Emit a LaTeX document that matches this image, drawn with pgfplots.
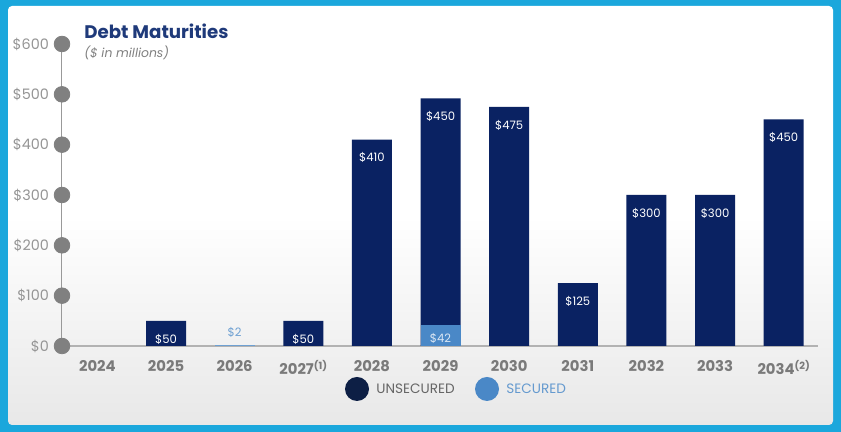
\documentclass[border=0pt]{standalone}
\usepackage{pgfplots}
\pgfplotsset{compat=1.18}
\usepackage{fontspec}
\setmainfont{Poppins}

\definecolor{navybar}{HTML}{0A2262}
\definecolor{navydot}{HTML}{0D1F45}
\definecolor{securedblue}{HTML}{4A88C7}
\definecolor{framecyan}{HTML}{1BA7DC}
\definecolor{ticktext}{HTML}{959595}
\definecolor{yeartext}{HTML}{7A7A7A}
\definecolor{titlenavy}{HTML}{1F3A7A}

\begin{document}
\begin{tikzpicture}
% frame and panel
\fill[framecyan] (0,0) rectangle (420.5pt,216pt);
\shade[top color=white, bottom color=black!9, middle color=white, rounded corners=2pt]
  (4pt,3.5pt) rectangle (416.5pt,213pt);

\begin{axis}[
    at={(31pt,43pt)}, anchor=south west,
    scale only axis,
    width=378pt, height=151pt,
    xmin=-0.516, xmax=10.5,
    ymin=0, ymax=600,
    clip=false,
    axis x line=bottom, axis y line=left,
    x axis line style={-, draw=black!30, line width=0.6pt},
    y axis line style={-, draw=black!40, line width=0.5pt},
    xtick={0,...,10},
    xticklabels={2024,2025,2026,{2027\raisebox{0.6ex}{\tiny(1)}},2028,2029,2030,2031,2032,2033,{2034\raisebox{0.6ex}{\tiny(2)}}},
    x tick label style={font=\fontsize{7.4}{9}\selectfont\bfseries, text=yeartext, yshift=-3.5pt},
    ytick={0,100,...,600},
    yticklabels={\$0,\$100,\$200,\$300,\$400,\$500,\$600},
    y tick label style={font=\fontsize{7.2}{9}\selectfont, text=ticktext, xshift=-3pt},
    major tick length=0pt,
    bar width=20pt,
]
% unsecured (2029 bar drawn to its full height of 450 + 42)
\addplot[ybar, bar shift=0pt, fill=navybar, draw=none,
    point meta=explicit symbolic, nodes near coords,
    every node near coord/.append style={anchor=north, yshift=-3pt,
        font=\fontsize{5.8}{7}\selectfont, text=white}]
coordinates {
(1,50) [\$50]
(3,50) [\$50]
(4,410) [\$410]
(5,492) [\$450]
(6,475) [\$475]
(7,125) [\$125]
(8,300) [\$300]
(9,300) [\$300]
(10,450) [\$450]
};
% secured
\addplot[ybar, bar shift=0pt, fill=securedblue, draw=none,
    point meta=explicit symbolic, nodes near coords,
    every node near coord/.append style={anchor=north, yshift=-0.5pt,
        font=\fontsize{5.8}{7}\selectfont, text=white!80!securedblue}]
coordinates {(5,42) [\$42]};
\addplot[ybar, bar shift=0pt, fill=securedblue!80, draw=none,
    point meta=explicit symbolic, nodes near coords,
    every node near coord/.append style={anchor=south, yshift=0pt,
        font=\fontsize{5.8}{7}\selectfont, text=securedblue!80}]
coordinates {(2,2) [\$2]};
% axis dots
\addplot[only marks, mark=*, mark size=3.9pt, color=black!50, forget plot]
coordinates {(-0.516,0)(-0.516,100)(-0.516,200)(-0.516,300)(-0.516,400)(-0.516,500)(-0.516,600)};
\end{axis}

% title
\node[anchor=base west, font=\fontsize{9.1}{11}\selectfont\bfseries, text=titlenavy, inner sep=0pt]
  at (42pt,196.5pt) {Debt Maturities};
\node[anchor=base west, font=\fontsize{6.2}{7}\selectfont\itshape, text=black!50, inner sep=0pt]
  at (42pt,187pt) {(\$ in millions)};

% legend
\fill[navydot] (178.5pt,21.5pt) circle (6pt);
\node[anchor=west, font=\fontsize{6.8}{8}\selectfont, text=black!60, inner sep=0pt] at (188pt,21.5pt) {UNSECURED};
\fill[securedblue] (243.5pt,21.5pt) circle (6pt);
\node[anchor=west, font=\fontsize{6.8}{8}\selectfont, text=securedblue!85, inner sep=0pt] at (253pt,21.5pt) {SECURED};
\end{tikzpicture}
\end{document}
